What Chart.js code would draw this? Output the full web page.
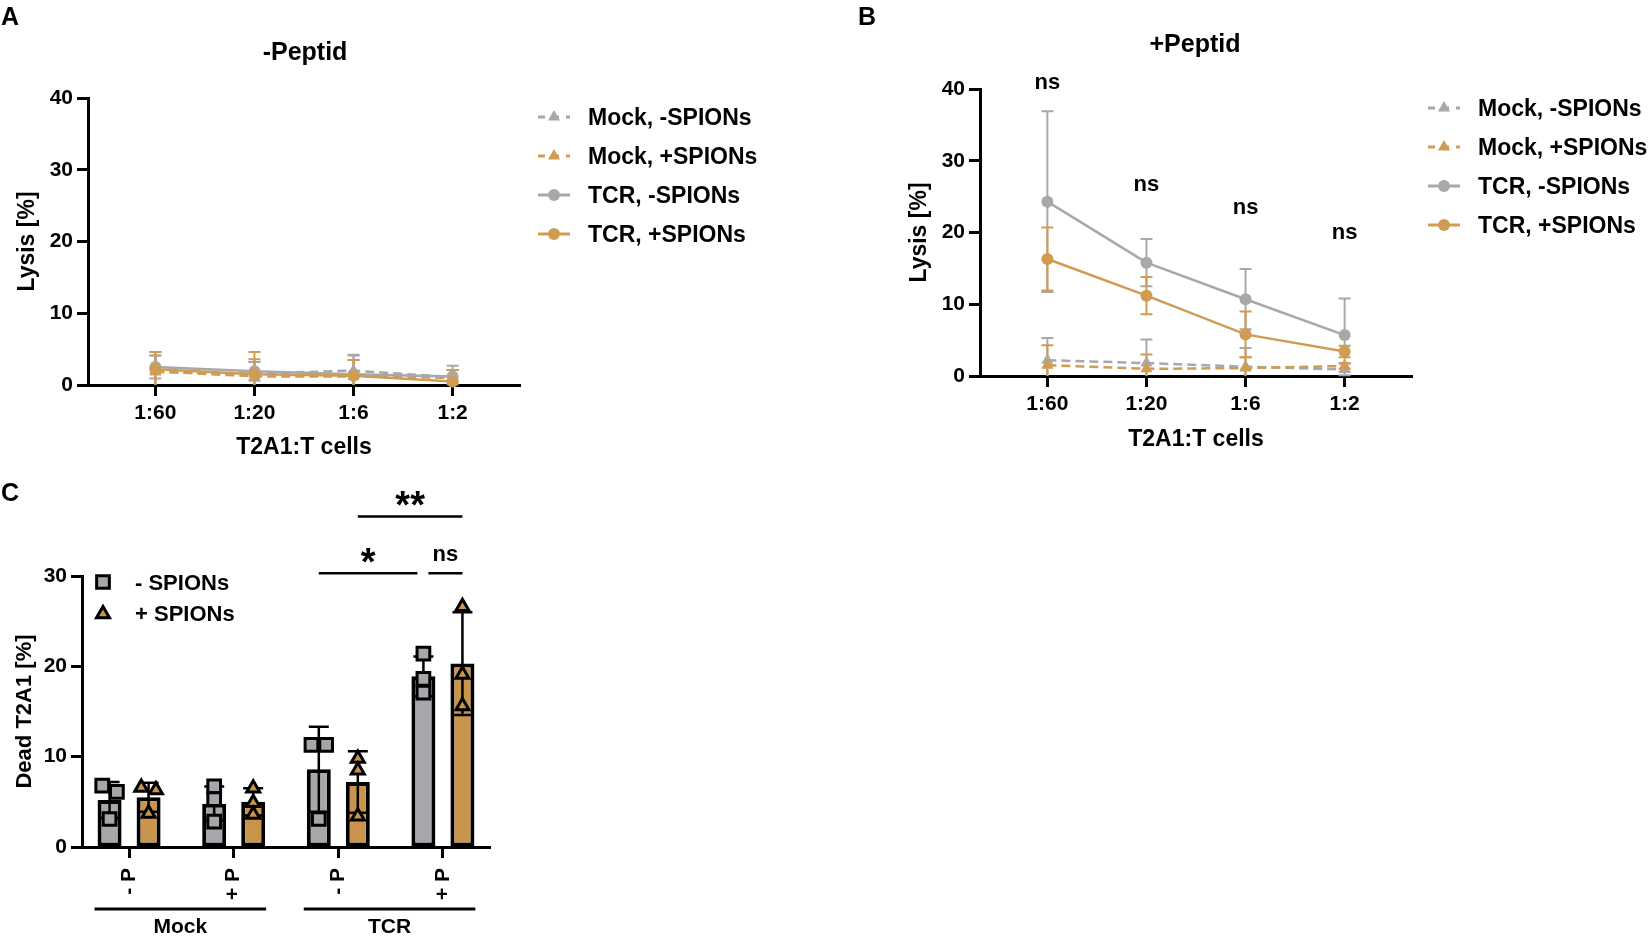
<!DOCTYPE html>
<html>
<head>
<meta charset="utf-8">
<title>Lysis and dead T2A1 cells</title>
<script src="https://cdn.jsdelivr.net/npm/chart.js@4.4.1/dist/chart.umd.min.js"></script>
<style>
  html, body { margin: 0; padding: 0; background: #fff; }
  body { position: relative; width: 1651px; height: 937px; overflow: hidden;
         font-family: "Liberation Sans", Arial, sans-serif; font-weight: bold; color: #000; }
  .panel { position: absolute; }
  .txt { position: absolute; white-space: nowrap; line-height: 1; }
  .letter { font-size: 25px; }
  .title { font-size: 25px; width: 300px; text-align: center; }
</style>
</head>
<body>
<canvas id="chartA" class="panel" style="left:0;top:0" width="830" height="470"></canvas>
<canvas id="chartB" class="panel" style="left:840px;top:0" width="811" height="470"></canvas>
<canvas id="chartC" class="panel" style="left:0;top:470px" width="520" height="467"></canvas>
<div class="txt letter" style="left:1px;top:4px">A</div>
<div class="txt letter" style="left:858px;top:4px">B</div>
<div class="txt letter" style="left:1px;top:480px">C</div>
<div class="txt title" style="left:155px;top:39px">-Peptid</div>
<div class="txt title" style="left:1045px;top:31px">+Peptid</div>
<script>
Chart.defaults.font.family = '"Liberation Sans", Arial, sans-serif';
Chart.defaults.font.weight = 'bold';
Chart.defaults.color = '#000';
Chart.defaults.animation = false;

const GRAY = '#a8a8ab';
const ORANGE = '#d09c52';
const GRAY_BAR = '#a6a6ab';
const ORANGE_BAR = '#c9954c';
const FONT = '"Liberation Sans", Arial, sans-serif';

// panels A and B: effector ratio on the x axis
const ratios = ['1:60', '1:20', '1:6', '1:2'];
const seriesNames = ['Mock, -SPIONs', 'Mock, +SPIONs', 'TCR, -SPIONs', 'TCR, +SPIONs'];

// A: -Peptid, lysis [%] mean and SD
const mockMinusA = [1.8, 1.6, 2.0, 1.1];
const mockMinusSdA = [2.3, 1.6, 2.2, 1.0];
const mockPlusA = [1.9, 1.2, 1.2, 1.0];
const mockPlusSdA = [2.7, 2.4, 2.3, 1.1];
const tcrMinusA = [2.5, 1.9, 1.5, 1.2];
const tcrMinusSdA = [1.6, 1.3, 2.6, 1.5];
const tcrPlusA = [2.2, 1.5, 1.3, 0.5];
const tcrPlusSdA = [2.4, 3.1, 2.2, 1.6];

// B: +Peptid
const mockMinusB = [2.2, 1.8, 1.3, 0.9];
const mockMinusSdB = [3.1, 3.3, 2.6, 0.8];
const mockPlusB = [1.5, 1.0, 1.1, 1.4];
const mockPlusSdB = [2.8, 2.0, 1.5, 0.4];
const tcrMinusB = [24.3, 15.8, 10.7, 5.7];
const tcrMinusSdB = [12.6, 3.3, 4.2, 5.1];
const tcrPlusB = [16.3, 11.2, 5.8, 3.4];
const tcrPlusSdB = [4.4, 2.6, 3.2, 0.8];
const nsTextB = ['ns', 'ns', 'ns', 'ns'];
const nsHeightB = [40.8, 26.6, 23.4, 19.9];

// C: dead T2A1 [%]
const groupsC = ['- P', '+ P', '- P', '+ P'];
const conditionsC = ['Mock', 'TCR'];
const deadMinus = [5.2, 4.8, 8.6, 18.9];
const deadMinusSd = [2.0, 1.9, 4.7, 2.2];
const deadPlus = [5.5, 5.0, 7.2, 20.3];
const deadPlusSd = [1.6, 1.5, 3.4, 5.7];
const repsMinus = [[6.8, 6.1, 3.1], [6.7, 5.3, 2.8], [11.3, 11.3, 3.1], [21.4, 18.6, 17.1]];
const repsPlus = [[6.6, 6.3, 3.7], [6.5, 4.9, 3.6], [9.8, 8.5, 3.4], [26.6, 19.1, 15.6]];
// sideways spread of overlapping replicate symbols
const spreadMinus = [[-1, 1, 0], [0, 0, 0], [-1, 1, 0], [0, 0, 0]];
const spreadPlus = [[-1, 1, 0], [0, 0, 0], [0, 0, 0], [0, 0, 0]];
// significance: [group, side] of both bars (-1 = -SPIONs, 1 = +SPIONs)
const sigBrackets = [
  { a: [2, -1], b: [3, -1], text: '*', y: 30.3 },
  { a: [3, -1], b: [3, 1], text: 'ns', y: 30.3 },
  { a: [2, 1], b: [3, 1], text: '**', y: 36.6 }
];

function marker(ctx, style, x, y, r, fill, stroke, lw) {
  ctx.beginPath();
  if (style === 'circle') {
    ctx.arc(x, y, r, 0, Math.PI * 2);
  } else if (style === 'triangle') {
    ctx.moveTo(x, y - r);
    ctx.lineTo(x + r * 0.866, y + r * 0.5);
    ctx.lineTo(x - r * 0.866, y + r * 0.5);
    ctx.closePath();
  } else {
    const s = r * Math.SQRT1_2;
    ctx.rect(x - s, y - s, 2 * s, 2 * s);
  }
  ctx.fillStyle = fill;
  ctx.fill();
  if (lw) { ctx.lineWidth = lw; ctx.strokeStyle = stroke; ctx.lineJoin = 'miter'; ctx.stroke(); }
}

// put the ink of a text centred on cy
function inkText(ctx, text, x, cy) {
  const m = ctx.measureText(text);
  ctx.textBaseline = 'alphabetic';
  ctx.fillText(text, x, cy + (m.actualBoundingBoxAscent - m.actualBoundingBoxDescent) / 2);
}

function drawErrors(chart, i, opts) {
  const ds = chart.data.datasets[i];
  if (!ds.errors) return;
  const meta = chart.getDatasetMeta(i);
  const ys = chart.scales[meta.yAxisID];
  const ctx = chart.ctx;
  ctx.save();
  ctx.strokeStyle = opts.color || ds.borderColor;
  ctx.lineWidth = opts.width;
  ctx.setLineDash([]);
  meta.data.forEach((el, j) => {
    const v = ds.data[j].y;
    const sd = ds.errors[j];
    const top = ys.getPixelForValue(v + sd);
    const low = v - sd;
    const bot = ys.getPixelForValue(Math.max(low, ys.min));
    ctx.beginPath();
    ctx.moveTo(el.x, top); ctx.lineTo(el.x, bot);
    ctx.moveTo(el.x - opts.cap, top); ctx.lineTo(el.x + opts.cap, top);
    if (low > ys.min) { ctx.moveTo(el.x - opts.cap, bot); ctx.lineTo(el.x + opts.cap, bot); }
    ctx.stroke();
  });
  ctx.restore();
}

const errorBars = {
  id: 'errorBars',
  beforeDatasetsDraw(chart, args, opts) {
    if (opts.mode !== 'behind') return;
    chart.data.datasets.forEach((ds, i) => drawErrors(chart, i, opts));
  },
  afterDatasetDraw(chart, args, opts) {
    if (opts.mode === 'onBars' && args.meta.type === 'bar') drawErrors(chart, args.index, opts);
  }
};

const seriesLegend = {
  id: 'seriesLegend',
  afterDraw(chart, args, opts) {
    const ctx = chart.ctx;
    chart.data.datasets.forEach((ds, i) => {
      const y = opts.y + i * opts.dy;
      ctx.save();
      ctx.strokeStyle = ds.borderColor;
      ctx.lineWidth = 3;
      ctx.setLineDash(ds.borderDash.length ? [7, 7] : []);
      ctx.beginPath(); ctx.moveTo(opts.x, y); ctx.lineTo(opts.x + 32, y); ctx.stroke();
      ctx.setLineDash([]);
      marker(ctx, ds.pointStyle, opts.x + 16, y, ds.pointRadius, ds.borderColor, null, 0);
      ctx.fillStyle = '#000';
      ctx.font = 'bold 23px ' + FONT;
      ctx.textAlign = 'left';
      ctx.textBaseline = 'alphabetic';
      ctx.fillText(ds.label, opts.x + 50, y + 8.3);
      ctx.restore();
    });
  }
};

const nsMarks = {
  id: 'nsMarks',
  afterDraw(chart) {
    const ctx = chart.ctx, xs = chart.scales.x, ys = chart.scales.y;
    ctx.save();
    ctx.fillStyle = '#000';
    ctx.font = 'bold 22px ' + FONT;
    ctx.textAlign = 'center';
    nsTextB.forEach((t, i) => inkText(ctx, t, xs.getPixelForValue(i), ys.getPixelForValue(nsHeightB[i])));
    ctx.restore();
  }
};

function lysisChart(id, sets, box) {
  const styles = [
    { color: GRAY, dash: [9, 5], point: 'triangle', r: 7 },
    { color: ORANGE, dash: [9, 5], point: 'triangle', r: 7 },
    { color: GRAY, dash: [], point: 'circle', r: 6 },
    { color: ORANGE, dash: [], point: 'circle', r: 6 }
  ];
  const tickGrid = { drawOnChartArea: false, drawTicks: true, tickLength: 11, tickWidth: 3, tickColor: '#000' };
  return new Chart(document.getElementById(id), {
    type: 'line',
    data: {
      datasets: sets.map((s, i) => ({
        label: seriesNames[i],
        data: s.mean.map((v, j) => ({ x: j, y: v })),
        errors: s.sd,
        borderColor: styles[i].color,
        backgroundColor: styles[i].color,
        borderWidth: 2.5,
        borderDash: styles[i].dash,
        pointStyle: styles[i].point,
        pointRadius: styles[i].r,
        pointBorderWidth: 0,
        pointBackgroundColor: styles[i].color,
        clip: false,
        order: 4 - i
      }))
    },
    options: {
      responsive: false,
      maintainAspectRatio: false,
      events: [],
      layout: { padding: { top: box.top, right: box.right, left: 0, bottom: 0 } },
      plugins: {
        legend: { display: false },
        tooltip: { enabled: false },
        errorBars: { mode: 'behind', width: 2, cap: 6 },
        seriesLegend: box.legend
      },
      scales: {
        x: {
          type: 'linear', min: -0.68, max: 3.68,
          afterBuildTicks: s => { s.ticks = ratios.map((r, i) => ({ value: i })); },
          afterFit: s => { s.height = box.xHeight; },
          ticks: { callback: v => ratios[v], font: { size: 21 }, padding: 5, autoSkip: false, maxRotation: 0 },
          grid: tickGrid,
          border: { color: '#000', width: 3 },
          title: { display: true, text: 'T2A1:T cells', font: { size: 23 }, padding: { top: 0, bottom: box.xTitlePad } }
        },
        y: {
          min: 0, max: 40,
          afterFit: s => { s.width = box.yWidth; },
          ticks: { stepSize: 10, font: { size: 21 }, padding: 4 },
          grid: tickGrid,
          border: { color: '#000', width: 3 },
          title: { display: true, text: 'Lysis [%]', font: { size: 23 }, padding: { top: box.yTitlePad, bottom: 0 } }
        }
      }
    },
    plugins: box.extra.concat([errorBars, seriesLegend])
  });
}

lysisChart('chartA', [
  { mean: mockMinusA, sd: mockMinusSdA },
  { mean: mockPlusA, sd: mockPlusSdA },
  { mean: tcrMinusA, sd: tcrMinusSdA },
  { mean: tcrPlusA, sd: tcrPlusSdA }
], { top: 98, right: 310, yWidth: 88, xHeight: 85, yTitlePad: 14, xTitlePad: 9,
     legend: { x: 538, y: 117, dy: 39 }, extra: [] });

lysisChart('chartB', [
  { mean: mockMinusB, sd: mockMinusSdB },
  { mean: mockPlusB, sd: mockPlusSdB },
  { mean: tcrMinusB, sd: tcrMinusSdB },
  { mean: tcrPlusB, sd: tcrPlusSdB }
], { top: 89, right: 239, yWidth: 140, xHeight: 94, yTitlePad: 66, xTitlePad: 17,
     legend: { x: 588, y: 108, dy: 39 }, extra: [nsMarks] });

// panel C
const catPct = 0.746;
const pairOffset = catPct / 4;
const spreadStep = 0.07;

function repPoints(reps, spread, side) {
  const pts = [];
  reps.forEach((vals, g) => vals.forEach((v, k) => {
    pts.push({ x: g + side * pairOffset + spread[g][k] * spreadStep, y: v });
  }));
  return pts;
}

const cLegend = {
  id: 'cLegend',
  afterDraw(chart) {
    const ctx = chart.ctx;
    ctx.save();
    marker(ctx, 'rect', 103, 112, 9, GRAY_BAR, '#000', 3);
    marker(ctx, 'triangle', 103, 144, 7.5, ORANGE_BAR, '#000', 3);
    ctx.fillStyle = '#000';
    ctx.font = 'bold 22px ' + FONT;
    ctx.textAlign = 'left';
    ctx.textBaseline = 'alphabetic';
    ctx.fillText(chart.data.datasets[0].label, 135, 112 + 8);
    ctx.fillText(chart.data.datasets[1].label, 135, 143 + 8);
    ctx.restore();
  }
};

const groupLabels = {
  id: 'groupLabels',
  afterDraw(chart) {
    const ctx = chart.ctx, xs = chart.scales.x;
    ctx.save();
    ctx.strokeStyle = '#000';
    ctx.lineWidth = 3;
    ctx.fillStyle = '#000';
    ctx.font = 'bold 21px ' + FONT;
    ctx.textAlign = 'center';
    conditionsC.forEach((name, k) => {
      const a = xs.getPixelForValue(2 * k - 0.33);
      const b = xs.getPixelForValue(2 * k + 1 + 0.31);
      ctx.beginPath(); ctx.moveTo(a, 439); ctx.lineTo(b, 439); ctx.stroke();
      ctx.textBaseline = 'alphabetic';
      ctx.fillText(name, (a + b) / 2, 463);
    });
    ctx.restore();
  }
};

const brackets = {
  id: 'brackets',
  afterDraw(chart) {
    const ctx = chart.ctx, xs = chart.scales.x, ys = chart.scales.y;
    const px = p => xs.getPixelForValue(p[0] + p[1] * pairOffset);
    const shared = (b, p) => sigBrackets.some(o => o !== b && o.y === b.y &&
      ((o.a[0] === p[0] && o.a[1] === p[1]) || (o.b[0] === p[0] && o.b[1] === p[1])));
    ctx.save();
    ctx.strokeStyle = '#000';
    ctx.fillStyle = '#000';
    ctx.lineWidth = 2.5;
    ctx.textAlign = 'center';
    sigBrackets.forEach(b => {
      const x1 = px(b.a) + (shared(b, b.a) ? 5 : 0);
      const x2 = px(b.b) - (shared(b, b.b) ? 6 : 0);
      const y = ys.getPixelForValue(b.y);
      ctx.beginPath(); ctx.moveTo(x1, y); ctx.lineTo(x2, y); ctx.stroke();
      ctx.font = (b.text.indexOf('*') >= 0 ? 'bold 38px ' : 'bold 22px ') + FONT;
      inkText(ctx, b.text, (x1 + x2) / 2, y - 18);
    });
    ctx.restore();
  }
};

const cGrid = { drawOnChartArea: false, drawTicks: true, tickLength: 11, tickWidth: 3, tickColor: '#000', offset: false };

new Chart(document.getElementById('chartC'), {
  type: 'bar',
  data: {
    datasets: [
      { label: '- SPIONs', data: deadMinus.map((v, i) => ({ x: i, y: v })), errors: deadMinusSd,
        backgroundColor: GRAY_BAR, borderColor: '#000', borderWidth: 4, borderSkipped: false,
        categoryPercentage: catPct, barPercentage: 0.615, order: 3, clip: false },
      { label: '+ SPIONs', data: deadPlus.map((v, i) => ({ x: i, y: v })), errors: deadPlusSd,
        backgroundColor: ORANGE_BAR, borderColor: '#000', borderWidth: 4, borderSkipped: false,
        categoryPercentage: catPct, barPercentage: 0.615, order: 3, clip: false },
      { type: 'scatter', label: 'reps -', data: repPoints(repsMinus, spreadMinus, -1),
        pointStyle: 'rect', pointRadius: 9, pointBackgroundColor: GRAY_BAR, pointBorderColor: '#000',
        pointBorderWidth: 3, order: 1, clip: false },
      { type: 'scatter', label: 'reps +', data: repPoints(repsPlus, spreadPlus, 1),
        pointStyle: 'triangle', pointRadius: 7.5, pointBackgroundColor: ORANGE_BAR, pointBorderColor: '#000',
        pointBorderWidth: 3, order: 1, clip: false }
    ]
  },
  options: {
    responsive: false,
    maintainAspectRatio: false,
    events: [],
    layout: { padding: { top: 106, right: 30, left: 0, bottom: 0 } },
    plugins: {
      legend: { display: false },
      tooltip: { enabled: false },
      errorBars: { mode: 'onBars', width: 2.5, cap: 10, color: '#000' }
    },
    scales: {
      x: {
        type: 'linear', min: -0.45, max: 3.45, offset: false,
        afterBuildTicks: s => { s.ticks = groupsC.map((g, i) => ({ value: i })); },
        afterFit: s => { s.height = 90; },
        ticks: { callback: v => groupsC[v], font: { size: 21 }, padding: 10, autoSkip: false, minRotation: 90, maxRotation: 90 },
        grid: cGrid,
        border: { color: '#000', width: 3 }
      },
      y: {
        min: 0, max: 30,
        afterFit: s => { s.width = 82; },
        ticks: { stepSize: 10, font: { size: 21 }, padding: 4 },
        grid: cGrid,
        border: { color: '#000', width: 3 },
        title: { display: true, text: 'Dead T2A1 [%]', font: { size: 22 }, padding: { top: 12, bottom: 0 } }
      }
    }
  },
  plugins: [errorBars, cLegend, groupLabels, brackets]
});
</script>
</body>
</html>
